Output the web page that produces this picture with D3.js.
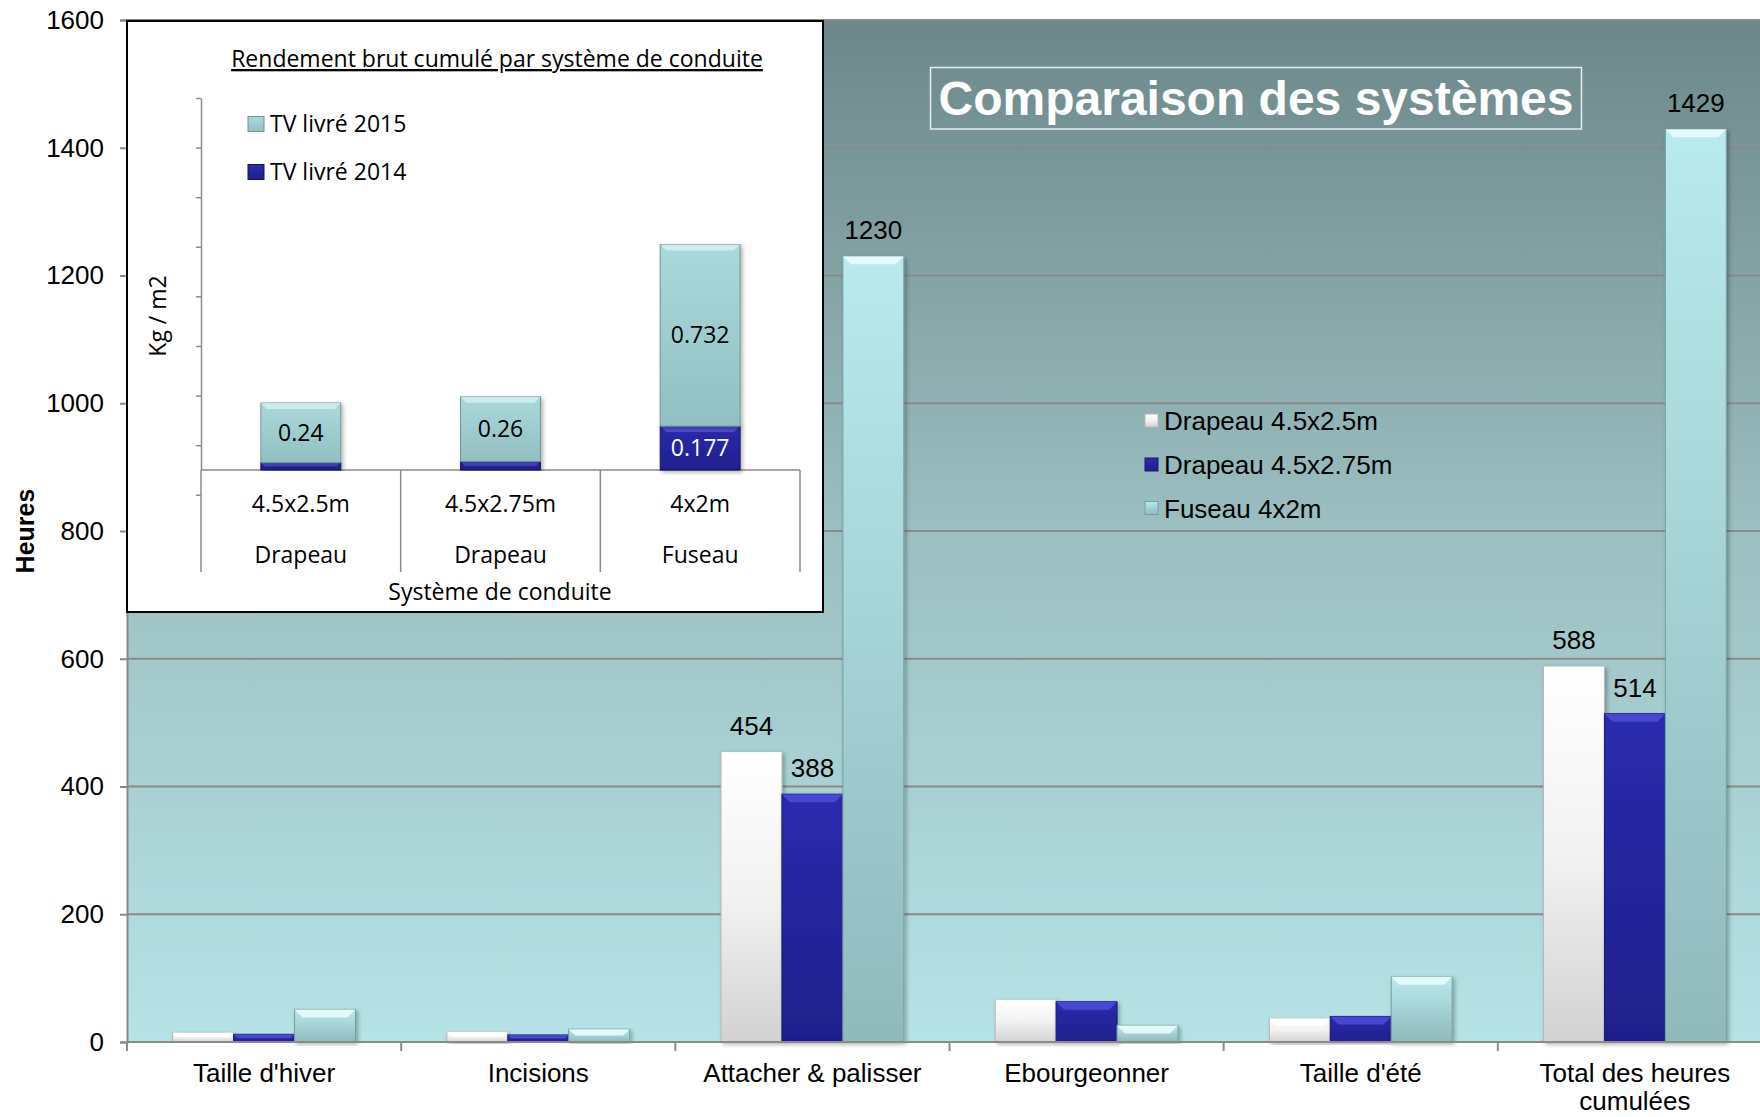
<!DOCTYPE html>
<meta charset="utf-8">
<style>
body { margin: 0; background: #fff; }
svg { display: block; font-family: "Liberation Sans", Arial, sans-serif; }
.inset text { font-family: "Open Sans", sans-serif; fill: #000; }
.grid line { stroke: #8a8a8a; stroke-width: 2; }
</style>
<body>
<script src="https://cdn.jsdelivr.net/npm/d3@7/dist/d3.min.js"></script>
<script>

// main chart data (hours)
var categories = ["Taille d'hiver", "Incisions", "Attacher & palisser", "Ebourgeonner", "Taille d'été", "Total des heures cumulées"];
var series = ["Drapeau 4.5x2.5m", "Drapeau 4.5x2.75m", "Fuseau 4x2m"];
var drapeau25 = [15, 16, 454, 66, 37, 588];
var drapeau275 = [12, 11, 388, 63, 40, 514];
var fuseau = [51, 20, 1230, 26, 102, 1429];
var labelled = ["Attacher & palisser", "Total des heures cumulées"];
var yTicks = [0, 200, 400, 600, 800, 1000, 1200, 1400, 1600];

// inset data (Kg / m2)
var systems = ["4.5x2.5m", "4.5x2.75m", "4x2m"];
var systemTypes = ["Drapeau", "Drapeau", "Fuseau"];
var tv2014 = [0.03, 0.035, 0.177];
var tv2015 = [0.24, 0.26, 0.732];
var insetSeries = ["TV livré 2014", "TV livré 2015"];
var insetTicks = [-0.1, 0.1, 0.3, 0.5, 0.7, 0.9, 1.1, 1.3, 1.5];

var width = 1760, height = 1117;
var plot = {left: 127, top: 20, right: 1772, bottom: 1042};

var svg = d3.select("body").append("svg")
    .attr("width", width)
    .attr("height", height);

var defs = svg.append("defs");

function vgrad(id, stops) {
  var g = defs.append("linearGradient").attr("id", id)
      .attr("x1", 0).attr("y1", 0).attr("x2", 0).attr("y2", 1);
  stops.forEach(function(s) {
    g.append("stop").attr("offset", s[0]).attr("stop-color", s[1]);
  });
}
vgrad("bg", [[0, "#6c8789"], [0.5, "#9cbfc1"], [1, "#b6e3e6"]]);
vgrad("g0", [[0, "#ffffff"], [0.5, "#f2f2f2"], [1, "#d2d2d2"]]);
vgrad("g1", [[0, "#2b2bae"], [1, "#1f1f8c"]]);
vgrad("g2", [[0, "#b9eaed"], [1, "#90b9bc"]]);
vgrad("i14", [[0, "#2b2bae"], [1, "#1f1f8c"]]);
vgrad("i15", [[0, "#abd8da"], [1, "#92c0c2"]]);

var shadow = defs.append("filter").attr("id", "shadow")
    .attr("x", "-20%").attr("y", "-5%").attr("width", "140%").attr("height", "115%");
shadow.append("feDropShadow").attr("dx", 2).attr("dy", 2)
    .attr("stdDeviation", 2).attr("flood-opacity", 0.3);

var fills = ["url(#g0)", "url(#g1)", "url(#g2)"];
var edges = ["#b8b8b8", "#1a1a70", "#78a0a3"];
var bevels = ["#ffffff", "#4c4cd8", "#ecfdfe"];

// scales
var x = d3.scaleBand().domain(categories).range([plot.left, plot.right]);
var x1 = d3.scaleBand().domain(series).range([0, x.bandwidth()])
    .paddingInner(0).paddingOuter(0.75);
var y = d3.scaleLinear().domain([0, 1600]).range([plot.bottom, plot.top]);

// plot background
svg.append("rect")
    .attr("x", plot.left).attr("y", plot.top)
    .attr("width", plot.right - plot.left).attr("height", plot.bottom - plot.top)
    .attr("fill", "url(#bg)");

// gridlines
svg.append("g").attr("class", "grid")
  .selectAll("line").data(yTicks.slice(1)).join("line")
    .attr("x1", plot.left).attr("x2", plot.right)
    .attr("y1", d => y(d)).attr("y2", d => y(d));

// title box
var tb = svg.append("g");
tb.append("rect")
    .attr("x", 930.5).attr("y", 67.5).attr("width", 651).attr("height", 61.5)
    .attr("fill", "none").attr("stroke", "#e4eeee").attr("stroke-width", 1.5);
tb.append("text")
    .attr("x", 1256).attr("y", 115)
    .attr("text-anchor", "middle")
    .style("font-size", "48px").style("font-weight", "bold")
    .attr("fill", "#fff")
    .text("Comparaison des systèmes");

// bars
var values = [drapeau25, drapeau275, fuseau];
var groups = svg.append("g").selectAll("g").data(categories).join("g")
    .attr("transform", d => "translate(" + x(d) + ",0)");

var bars = groups.selectAll("g").data(function(c, i) {
    return series.map(function(s, j) { return {cat: c, key: s, j: j, value: values[j][i]}; });
  }).join("g");

bars.append("rect")
    .attr("x", d => x1(d.key))
    .attr("y", d => y(d.value))
    .attr("width", x1.bandwidth())
    .attr("height", d => y(0) - y(d.value))
    .attr("fill", d => fills[d.j])
    .attr("stroke", d => edges[d.j])
    .attr("stroke-width", 1)
    .attr("filter", "url(#shadow)");

bars.append("path")
    .attr("d", function(d) {
      var x0 = x1(d.key), w = x1.bandwidth(), t = y(d.value);
      var b = Math.min(8, (y(0) - t) / 2);
      return "M" + x0 + "," + t + "H" + (x0 + w) + "L" + (x0 + w - b) + "," + (t + b) +
             "H" + (x0 + b) + "Z";
    })
    .attr("fill", d => bevels[d.j])
    .attr("opacity", 0.85);

bars.filter(d => labelled.indexOf(d.cat) >= 0)
  .append("text")
    .attr("x", d => x1(d.key) + x1.bandwidth() / 2)
    .attr("y", d => y(d.value) - 17)
    .attr("text-anchor", "middle")
    .style("font-size", "26px")
    .text(d => d.value);

// y axis
var yAxis = svg.append("g")
    .attr("transform", "translate(" + plot.left + ",0)")
    .call(d3.axisLeft(y).tickValues(yTicks).tickFormat(d3.format("d")).tickSize(7).tickPadding(16));
yAxis.select(".domain").attr("stroke", "#8a8a8a").attr("stroke-width", 2);
yAxis.selectAll(".tick line").attr("stroke", "#8a8a8a").attr("stroke-width", 2);
yAxis.selectAll(".tick text").style("font-size", "26px").attr("fill", "#000")
    .style("font-family", "'Liberation Sans', Arial, sans-serif");

svg.append("text")
    .attr("transform", "translate(34,531) rotate(-90)")
    .attr("text-anchor", "middle")
    .style("font-size", "25px").style("font-weight", "bold")
    .text("Heures");

// x axis
var xa = svg.append("g");
xa.append("line")
    .attr("x1", plot.left).attr("x2", plot.right)
    .attr("y1", y(0)).attr("y2", y(0))
    .attr("stroke", "#8a8a8a").attr("stroke-width", 2);
xa.selectAll(".tk").data(categories).join("line").attr("class", "tk")
    .attr("x1", d => x(d)).attr("x2", d => x(d))
    .attr("y1", y(0)).attr("y2", y(0) + 9)
    .attr("stroke", "#8a8a8a").attr("stroke-width", 2);
xa.selectAll(".lbl").data(categories).join("text").attr("class", "lbl")
    .attr("text-anchor", "middle")
    .style("font-size", "26px")
    .each(function(d) {
      var lines = d === "Total des heures cumulées" ? ["Total des heures", "cumulées"] : [d];
      var t = d3.select(this);
      lines.forEach(function(l, k) {
        t.append("tspan")
            .attr("x", x(d) + x.bandwidth() / 2)
            .attr("y", 1082 + k * 28)
            .text(l);
      });
    });

// main legend
var legend = svg.append("g").selectAll("g").data(series).join("g")
    .attr("transform", (d, i) => "translate(1145," + [421, 465, 508.5][i] + ")");
legend.append("rect")
    .attr("x", 0).attr("y", -7).attr("width", 13).attr("height", 13)
    .attr("fill", (d, i) => fills[i]).attr("stroke", (d, i) => edges[i]);
legend.append("text")
    .attr("x", 19).attr("y", 9)
    .style("font-size", "26px")
    .text(d => d);

// ---------- inset ----------
var inset = svg.append("g").attr("class", "inset");
inset.append("rect")
    .attr("x", 127).attr("y", 21).attr("width", 696).attr("height", 591)
    .attr("fill", "#fff").attr("stroke", "#000").attr("stroke-width", 2);

inset.append("text")
    .attr("x", 497).attr("y", 67)
    .attr("text-anchor", "middle")
    .style("font-size", "23px")
    .style("text-decoration", "underline")
    .text("Rendement brut cumulé par système de conduite");

var xi = d3.scaleBand().domain(systems).range([201, 800]).paddingInner(0.6).paddingOuter(0.3);
var yi = d3.scaleLinear().domain([0, 1.5]).range([470, 98]);

var yiAxis = inset.append("g")
    .attr("transform", "translate(201,0)")
    .call(d3.axisLeft(yi).tickValues(insetTicks).tickSize(5).tickSizeOuter(0).tickFormat(""));
yiAxis.select(".domain").attr("stroke", "#8a8a8a").attr("stroke-width", 1.5);
yiAxis.selectAll(".tick line").attr("stroke", "#8a8a8a").attr("stroke-width", 1.5);

var bounds = systems.map(s => xi(s) - xi.step() * xi.paddingOuter());
bounds.push(xi.range()[1]);
inset.append("line")
    .attr("x1", 201).attr("x2", 800).attr("y1", yi(0)).attr("y2", yi(0))
    .attr("stroke", "#8a8a8a").attr("stroke-width", 1.5);
inset.selectAll(".div").data(bounds).join("line").attr("class", "div")
    .attr("x1", d => d).attr("x2", d => d)
    .attr("y1", yi(0)).attr("y2", 572)
    .attr("stroke", "#8a8a8a").attr("stroke-width", 1.5);

var table = systems.map((s, i) => ({sys: s, "TV livré 2014": tv2014[i], "TV livré 2015": tv2015[i]}));
var stacked = d3.stack().keys(insetSeries)(table);
var ifill = {"TV livré 2014": "url(#i14)", "TV livré 2015": "url(#i15)"};
var iedge = {"TV livré 2014": "#15155e", "TV livré 2015": "#6f9597"};
var ibevel = {"TV livré 2014": "#5656dc", "TV livré 2015": "#d5f1f2"};

var layers = inset.append("g").selectAll("g").data(stacked).join("g");
var segs = layers.selectAll("g").data(l => l.map(p => ({key: l.key, p: p}))).join("g");
segs.append("rect")
    .attr("x", d => xi(d.p.data.sys))
    .attr("y", d => yi(d.p[1]))
    .attr("width", xi.bandwidth())
    .attr("height", d => yi(d.p[0]) - yi(d.p[1]))
    .attr("fill", d => ifill[d.key])
    .attr("stroke", d => iedge[d.key]).attr("stroke-width", 1)
    .attr("filter", "url(#shadow)");
segs.append("path")
    .attr("d", function(d) {
      var x0 = xi(d.p.data.sys), w = xi.bandwidth(), t = yi(d.p[1]);
      var b = Math.min(6, (yi(d.p[0]) - t) / 2);
      return "M" + x0 + "," + t + "H" + (x0 + w) + "L" + (x0 + w - b) + "," + (t + b) +
             "H" + (x0 + b) + "Z";
    })
    .attr("fill", d => ibevel[d.key]).attr("opacity", 0.8);
segs.filter(d => yi(d.p[0]) - yi(d.p[1]) > 25)
  .append("text")
    .attr("x", d => xi(d.p.data.sys) + xi.bandwidth() / 2)
    .attr("y", d => (yi(d.p[0]) + yi(d.p[1])) / 2 + 8)
    .attr("text-anchor", "middle")
    .style("font-size", "23px")
    .style("fill", d => d.key === "TV livré 2014" ? "#fff" : "#000")
    .text(d => d.p.data[d.key]);

inset.selectAll(".sys").data(systems).join("text").attr("class", "sys")
    .attr("x", d => xi(d) + xi.bandwidth() / 2).attr("y", 512)
    .attr("text-anchor", "middle").style("font-size", "23px")
    .text(d => d);
inset.selectAll(".typ").data(systems).join("text").attr("class", "typ")
    .attr("x", d => xi(d) + xi.bandwidth() / 2).attr("y", 563)
    .attr("text-anchor", "middle").style("font-size", "23px")
    .text((d, i) => systemTypes[i]);
inset.append("text")
    .attr("x", 500).attr("y", 600)
    .attr("text-anchor", "middle").style("font-size", "23px")
    .text("Système de conduite");

inset.append("text")
    .attr("transform", "translate(166,316) rotate(-90)")
    .attr("text-anchor", "middle").style("font-size", "23px")
    .text("Kg / m2");

var ileg = inset.append("g").selectAll("g").data(insetSeries.slice().reverse()).join("g")
    .attr("transform", (d, i) => "translate(248," + [124, 172][i] + ")");
ileg.append("rect")
    .attr("x", 0).attr("y", -7.5).attr("width", 16).attr("height", 15)
    .attr("fill", d => ifill[d]).attr("stroke", d => iedge[d]);
ileg.append("text")
    .attr("x", 22).attr("y", 8)
    .style("font-size", "23px")
    .text(d => d);

</script>
</body>
